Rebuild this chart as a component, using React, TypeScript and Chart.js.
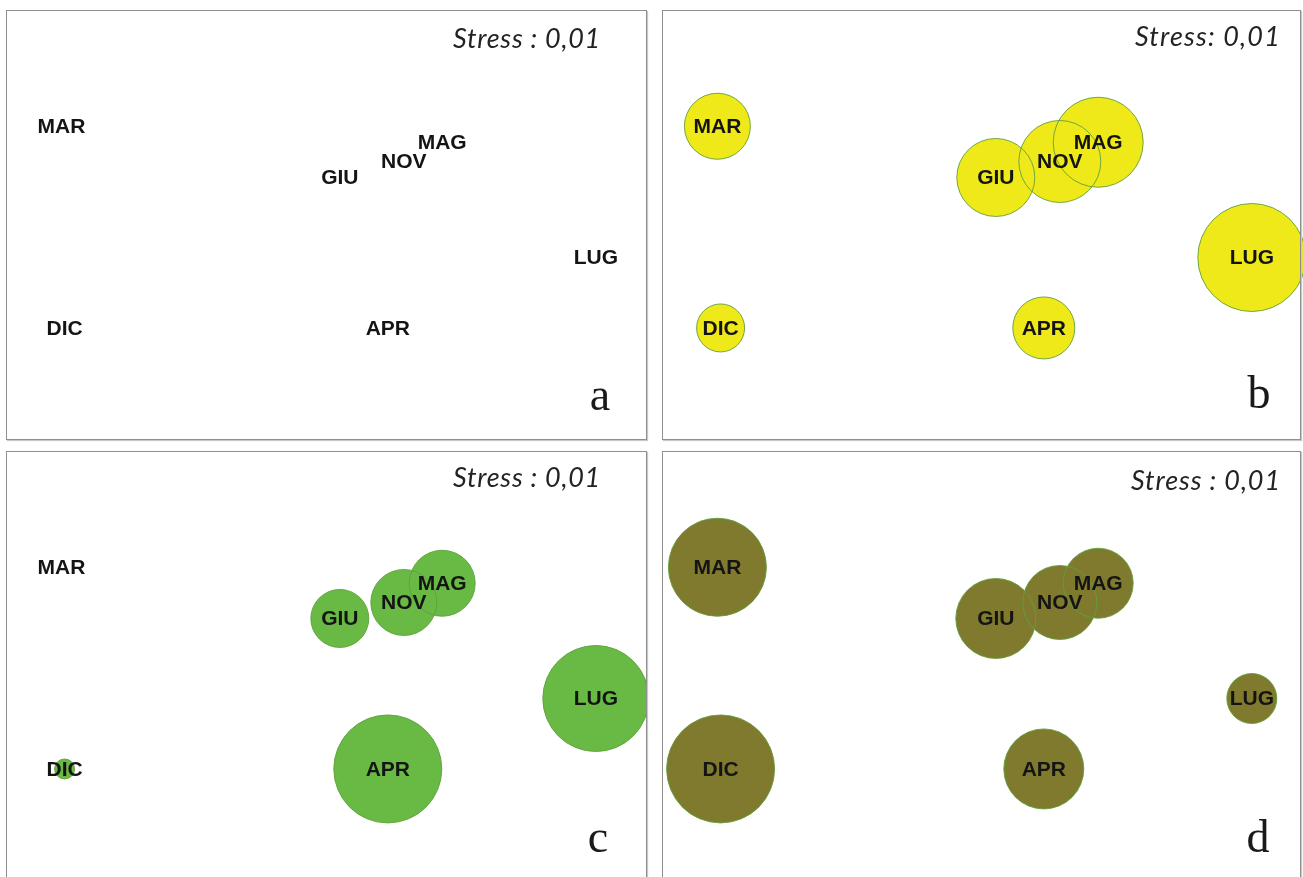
import React, { useEffect, useRef } from "react";
import { Chart, registerables } from "chart.js";

Chart.register(...registerables);

// NMDS ordination of sampling months
const months = ["MAR", "DIC", "GIU", "NOV", "MAG", "LUG", "APR"];
const dim1 = [-0.83, -0.82, 0.04, 0.24, 0.36, 0.84, 0.19];
const dim2 = [0.31, -0.32, 0.15, 0.2, 0.26, -0.1, -0.32];

// bubble values per panel (a: ordination only)
const valuesA = [0, 0, 0, 0, 0, 0, 0];
const valuesB = [33, 24, 39, 41, 45, 54, 31];
const valuesC = [0, 10, 29, 33, 33, 53, 54];
const valuesD = [49, 54, 40, 37, 35, 25, 40];

const stressTexts = ["Stress : 0,01", "Stress: 0,01", "Stress : 0,01", "Stress : 0,01"];
const panelLetters = ["a", "b", "c", "d"];

const PANEL_W = 640;
const PANEL_H = 429;

type PanelCfg = {
  left: number;
  top: number;
  borderW: number;
  values: number[];
  fill: string;
  stress: string;
  stressLeft: number;
  stressWidth: number;
  stressBase: number;
  letter: string;
  letterX: number;
  letterBase: number;
};

const panels: PanelCfg[] = [
  { left: 7, top: 11, borderW: 640, values: valuesA, fill: "rgba(0,0,0,0)", stress: stressTexts[0], stressLeft: 446, stressWidth: 148, stressBase: 37, letter: panelLetters[0], letterX: 593, letterBase: 399 },
  { left: 663, top: 11, borderW: 638, values: valuesB, fill: "rgb(240,233,26)", stress: stressTexts[1], stressLeft: 472, stressWidth: 146, stressBase: 35, letter: panelLetters[1], letterX: 596, letterBase: 397 },
  { left: 7, top: 452, borderW: 640, values: valuesC, fill: "rgb(104,186,68)", stress: stressTexts[2], stressLeft: 446, stressWidth: 148, stressBase: 35, letter: panelLetters[2], letterX: 591, letterBase: 400 },
  { left: 663, top: 452, borderW: 638, values: valuesD, fill: "rgb(128,122,46)", stress: stressTexts[3], stressLeft: 468, stressWidth: 150, stressBase: 38, letter: panelLetters[3], letterX: 595, letterBase: 400 },
];

function Panel({ cfg }: { cfg: PanelCfg }) {
  const ref = useRef<HTMLCanvasElement | null>(null);
  useEffect(() => {
    if (!ref.current) return;
    const pts = months.map((_, i) => ({ x: dim1[i], y: dim2[i], r: cfg.values[i] }));
    const textPlugin = {
      id: "mdsText",
      afterDatasetsDraw(chart: any) {
        const ctx = chart.ctx as CanvasRenderingContext2D;
        const meta = chart.getDatasetMeta(0);
        ctx.save();
        ctx.fillStyle = "#141414";
        ctx.font = "bold 21px 'Liberation Sans', Arial, sans-serif";
        ctx.textAlign = "center";
        ctx.textBaseline = "middle";
        meta.data.forEach((el: any, i: number) => {
          ctx.fillText(months[i], el.x, el.y + 1);
        });
        // stress annotation, spaced to its width in the figure
        ctx.font = "italic 27px Lato, 'Open Sans', sans-serif";
        const anyCtx = ctx as any;
        const w = ctx.measureText(cfg.stress).width;
        const n = cfg.stress.length;
        if ("letterSpacing" in anyCtx) {
          const sp = Math.max(0, (cfg.stressWidth - w) / n);
          anyCtx.letterSpacing = `${sp.toFixed(2)}px`;
        }
        ctx.fillStyle = "#232323";
        ctx.textAlign = "left";
        ctx.textBaseline = "alphabetic";
        ctx.fillText(cfg.stress, cfg.stressLeft, cfg.stressBase);
        if ("letterSpacing" in anyCtx) anyCtx.letterSpacing = "0px";
        ctx.font = "46px 'Liberation Serif', 'Times New Roman', serif";
        ctx.fillStyle = "#1a1a1a";
        ctx.textAlign = "center";
        ctx.fillText(cfg.letter, cfg.letterX, cfg.letterBase);
        ctx.restore();
      },
    };
    const chart = new Chart(ref.current, {
      type: "bubble",
      data: {
        datasets: [
          { data: pts, backgroundColor: cfg.fill, borderWidth: 0, order: 2 },
          { data: pts, backgroundColor: "rgba(0,0,0,0)", borderColor: "rgba(95,160,60,0.9)", borderWidth: 1, order: 1 },
        ],
      } as any,
      options: {
        animation: false,
        responsive: false,
        events: [],
        clip: false as any,
        layout: { padding: 0, autoPadding: false },
        scales: {
          x: { type: "linear", min: -1, max: 1, display: false },
          y: { type: "linear", min: -0.67, max: 0.67, display: false },
        },
        plugins: { legend: { display: false }, tooltip: { enabled: false } },
      } as any,
      plugins: [textPlugin],
    });
    return () => chart.destroy();
  }, [cfg]);

  return (
    <>
      <canvas
        ref={ref}
        width={PANEL_W}
        height={PANEL_H}
        style={{ position: "absolute", left: cfg.left, top: cfg.top, width: PANEL_W, height: PANEL_H }}
      />
      <div
        style={{
          position: "absolute",
          left: cfg.left - 1,
          top: cfg.top - 1,
          width: cfg.borderW + 1,
          height: PANEL_H + 1,
          boxSizing: "border-box",
          border: "1px solid #8f8f8f",
          boxShadow: "1px 1px 1px #c8c8c8",
          pointerEvents: "none",
        }}
      />
    </>
  );
}

export default function App() {
  return (
    <div
      style={{
        position: "fixed",
        left: 0,
        top: 0,
        width: 1303,
        height: 877,
        overflow: "hidden",
        background: "#ffffff",
      }}
    >
      {panels.map((p, i) => (
        <Panel key={i} cfg={p} />
      ))}
    </div>
  );
}
